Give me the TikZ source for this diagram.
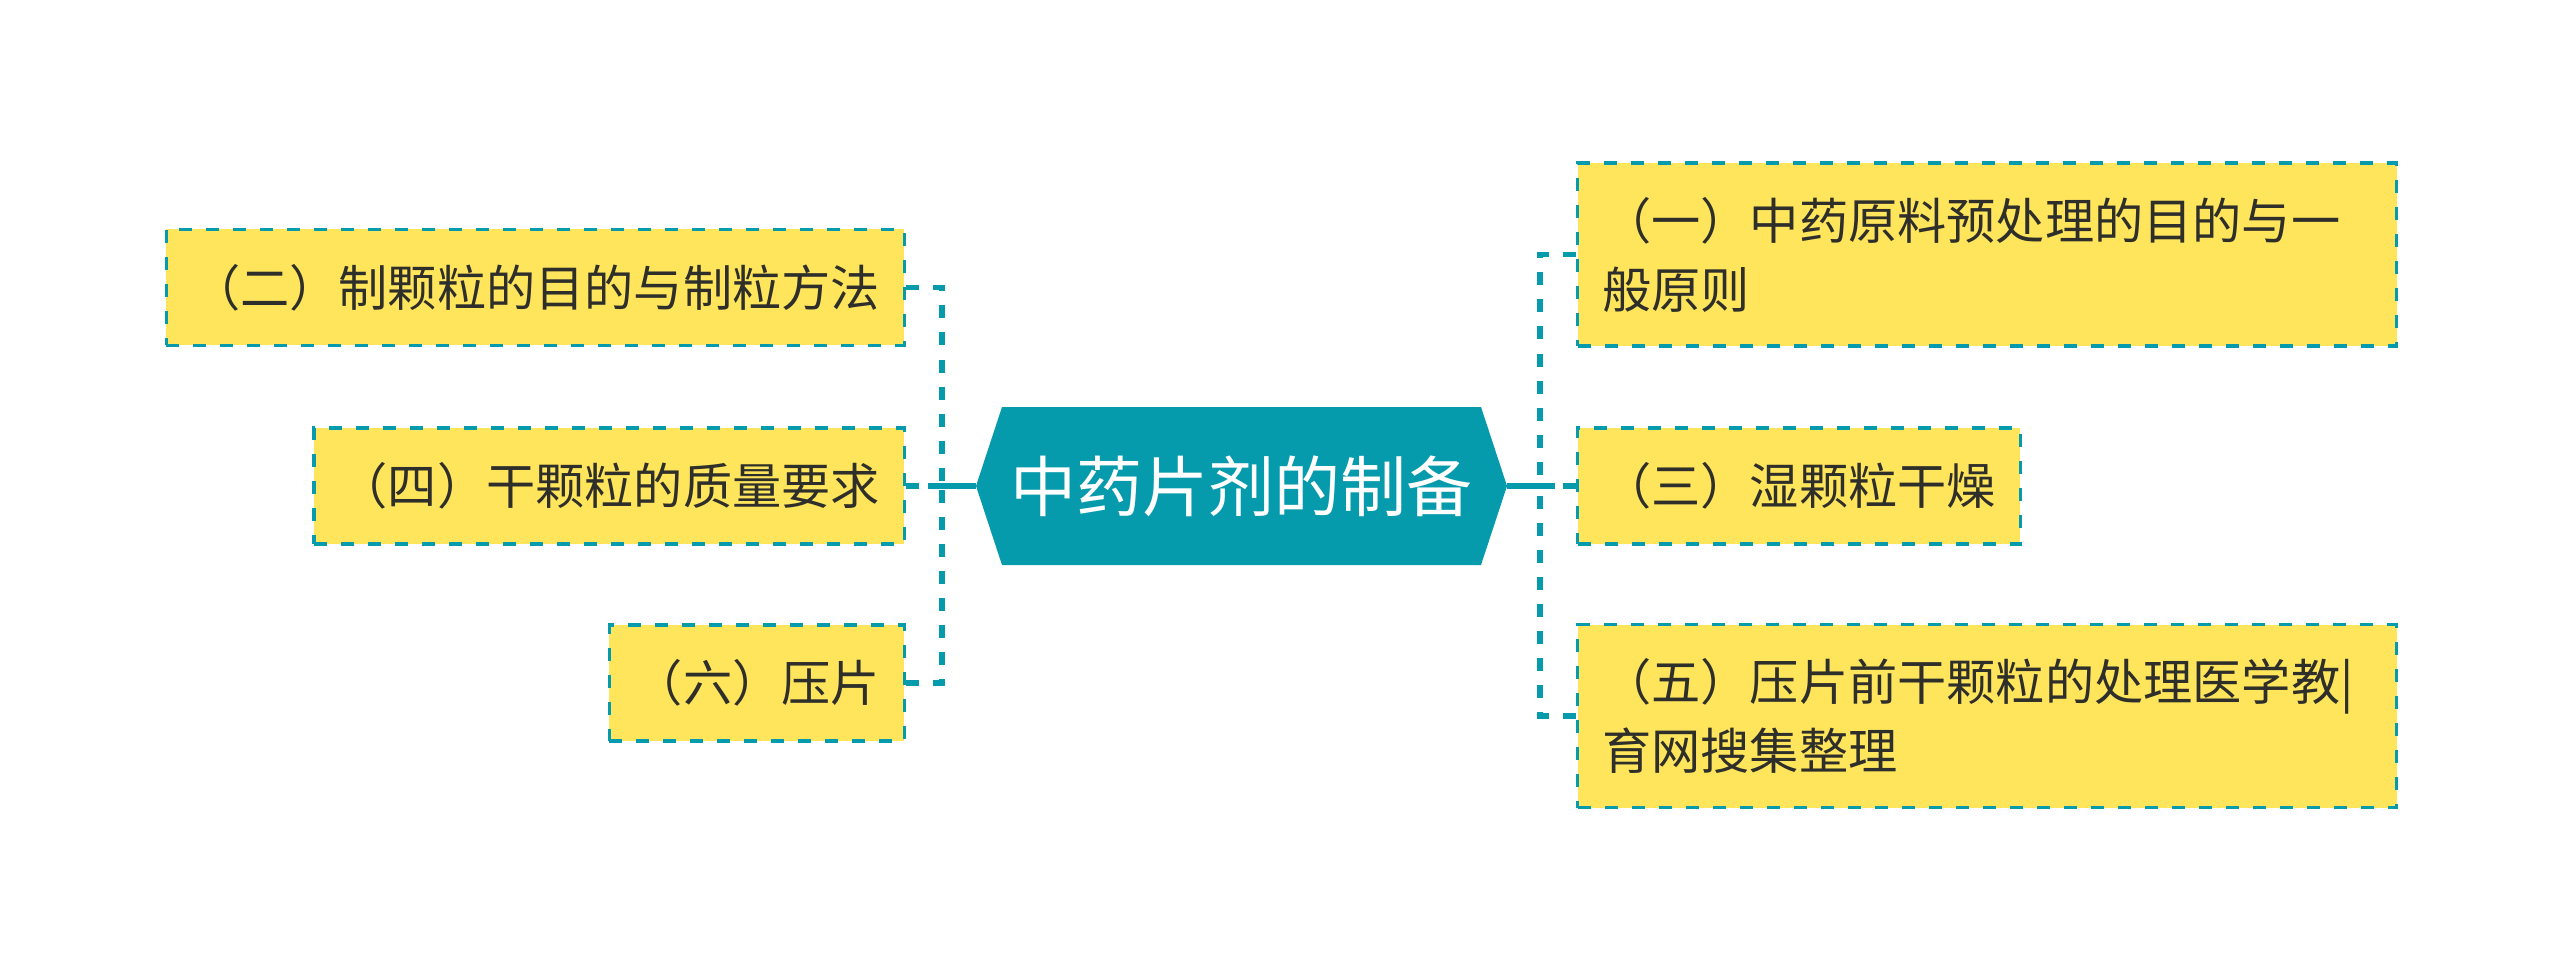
\documentclass[tikz,border=0pt]{standalone}
\usepackage{fontspec}
\usepackage{xcolor}
\usepackage{tikz}
\usetikzlibrary{calc}
\newfontfamily\cjk{Noto Sans CJK SC}
\definecolor{hubcol}{HTML}{069BAC}
\definecolor{boxfill}{HTML}{FFE55C}
\definecolor{ink}{HTML}{2E2E2A}
\tikzset{
  topic/.style={draw=hubcol, fill=boxfill, line width=1.6pt, dash pattern=on 6.5pt off 7pt,
    inner xsep=12.3pt, inner ysep=0pt, minimum height=58pt, text=ink,
    font=\cjk\fontsize{24.6}{34.5}\selectfont},
  wide/.style={topic, text width=385pt, align=left, minimum height=91.5pt},
  link/.style={draw=hubcol, line width=2.6pt},
  branch/.style={draw=hubcol, line width=2.6pt, dash pattern=on 6.5pt off 7pt},
  hubtext/.style={text=white, inner sep=0pt, font=\cjk\fontsize{33}{40}\selectfont}
}

\begin{document}
\begin{tikzpicture}[x=0.5pt,y=-0.5pt]
  \useasboundingbox[fill=white] (0,0) rectangle (2560,973);

  % centre topic
  \coordinate (hubL) at (976,486);
  \coordinate (hubR) at (1507,486);
  \fill[hubcol] (1002,407) -- (1481,407) -- (hubR) -- (1481,565) -- (1002,565) -- (hubL) -- cycle;
  \node[hubtext] (hub) at (1241.5,486) {中药片剂的制备};

  % left topics
  \node[topic,anchor=east] (t2) at (906,287.5) {（二）制颗粒的目的与制粒方法};
  \node[topic,anchor=east] (t4) at (906,486) {（四）干颗粒的质量要求};
  \node[topic,anchor=east] (t6) at (906,683) {（六）压片};

  % right topics
  \node[wide,anchor=west] (t1) at (1576,254.5) {（一）中药原料预处理的目的与一\\般原则};
  \node[topic,anchor=west] (t3) at (1576,486) {（三）湿颗粒干燥};
  \node[wide,anchor=west] (t5) at (1576,716) {（五）压片前干颗粒的处理医学教|\\育网搜集整理};

  % connectors
  \coordinate (jl) at (942,486);
  \coordinate (jr) at (1540,486);
  \coordinate (sl) at (928,486);
  \coordinate (sr) at (1555,486);
  \draw[link] (hubL) -- (sl);
  \draw[link] (hubR) -- (sr);
  \draw[branch] (t2.east) -| (jl);
  \draw[branch] (t6.east) -| (jl);
  \draw[branch] (t4.east) -- (jl);
  \draw[branch] (t1.west) -| (jr);
  \draw[branch] (t5.west) -| (jr);
  \draw[branch] (t3.west) -- (jr);
\end{tikzpicture}
\end{document}
